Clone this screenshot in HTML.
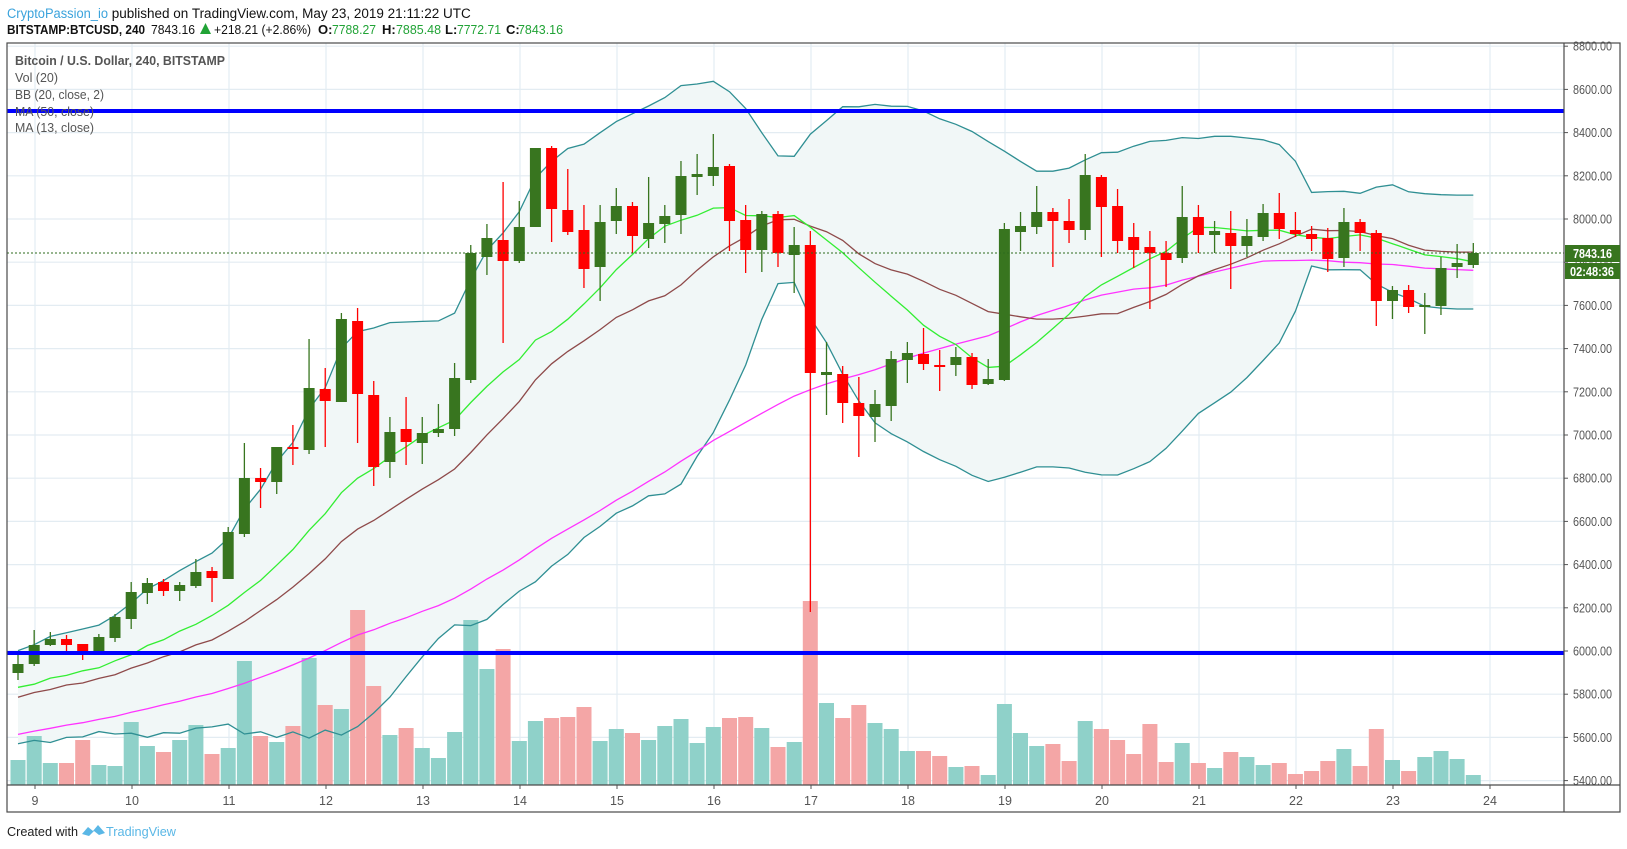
<!DOCTYPE html>
<html><head><meta charset="utf-8">
<style>
html,body{margin:0;padding:0;background:#fff;width:1627px;height:849px;overflow:hidden}
svg{display:block}
text{font-family:"Liberation Sans",sans-serif}
</style></head>
<body>
<svg id="s" width="1627" height="849" viewBox="0 0 1627 849" xmlns="http://www.w3.org/2000/svg">
<g id="grid"></g>
<g id="band"></g>
<g id="vol"></g>
<g id="lines"></g>
<g id="candles"></g>
<g id="over"></g>
<!-- header -->
<text x="7" y="18" font-size="13.5" fill="#111"><tspan fill="#3ba3dc" textLength="101" lengthAdjust="spacingAndGlyphs">CryptoPassion_io</tspan><tspan> published on TradingView.com, May 23, 2019 21:11:22 UTC</tspan></text>
<text x="7" y="34" font-size="13" font-weight="bold" fill="#111" textLength="138" lengthAdjust="spacingAndGlyphs">BITSTAMP:BTCUSD, 240</text>
<text x="151" y="34" font-size="13" fill="#111" textLength="44" lengthAdjust="spacingAndGlyphs">7843.16</text>
<polygon points="200,34 211,34 205.5,23" fill="#21a336"/>
<text x="214" y="34" font-size="13" fill="#111" textLength="97" lengthAdjust="spacingAndGlyphs">+218.21 (+2.86%)</text>
<text x="318" y="34" font-size="13" font-weight="bold" fill="#111">O:</text>
<text x="332" y="34" font-size="13" fill="#21a336" textLength="44" lengthAdjust="spacingAndGlyphs">7788.27</text>
<text x="382" y="34" font-size="13" font-weight="bold" fill="#111">H:</text>
<text x="396" y="34" font-size="13" fill="#21a336" textLength="45" lengthAdjust="spacingAndGlyphs">7885.48</text>
<text x="445" y="34" font-size="13" font-weight="bold" fill="#111">L:</text>
<text x="457" y="34" font-size="13" fill="#21a336" textLength="44" lengthAdjust="spacingAndGlyphs">7772.71</text>
<text x="506" y="34" font-size="13" font-weight="bold" fill="#111">C:</text>
<text x="518" y="34" font-size="13" fill="#21a336" textLength="45" lengthAdjust="spacingAndGlyphs">7843.16</text>
<!-- legend -->
<text x="15" y="65" font-size="12.5" font-weight="bold" fill="#555" textLength="210" lengthAdjust="spacingAndGlyphs">Bitcoin / U.S. Dollar, 240, BITSTAMP</text>
<text x="15" y="82" font-size="12.5" fill="#555" textLength="43" lengthAdjust="spacingAndGlyphs">Vol (20)</text>
<text x="15" y="99" font-size="12.5" fill="#555" textLength="89" lengthAdjust="spacingAndGlyphs">BB (20, close, 2)</text>
<text x="15" y="116" font-size="12.5" fill="#555" textLength="79" lengthAdjust="spacingAndGlyphs">MA (50, close)</text>
<text x="15" y="132" font-size="12.5" fill="#555" textLength="79" lengthAdjust="spacingAndGlyphs">MA (13, close)</text>
<!-- footer -->
<text x="7" y="836" font-size="13" fill="#222" textLength="71" lengthAdjust="spacingAndGlyphs">Created with</text>
<path d="M82,834 l6,-7 l5,4 l5,-6 l7,8 l-6,2 l-5,-4 l-5,5 z" fill="#5ab7e6"/>
<text x="106" y="836" font-size="13" fill="#5ab7e6" textLength="70" lengthAdjust="spacingAndGlyphs">TradingView</text>
</svg>
<script>
var NS="http://www.w3.org/2000/svg";
function el(p,t,a){var e=document.createElementNS(NS,t);for(var k in a)e.setAttribute(k,a[k]);document.getElementById(p).appendChild(e);return e;}
function Y(p){return 219+(8000-p)*0.216;}
function X(i){return 18+16.17*i;}
// grid
for(var p=5400;p<=8800;p+=200){var y=Y(p);el("grid","line",{x1:7,x2:1564,y1:y,y2:y,stroke:"#e3ecf2","stroke-width":1.2});
 var t=el("over","text",{x:1573,y:y+4.5,"font-size":12.5,fill:"#555",textLength:39,lengthAdjust:"spacingAndGlyphs"});t.textContent=p.toFixed(2);
 el("over","line",{x1:1564,x2:1568,y1:y,y2:y,stroke:"#555"});}
for(var k=0;k<16;k++){var x=35+97*k;el("grid","line",{x1:x,x2:x,y1:43,y2:785,stroke:"#e3ecf2","stroke-width":1.2});
 el("over","line",{x1:x,x2:x,y1:785,y2:789,stroke:"#555"});
 var t=el("over","text",{x:x,y:805,"font-size":12.5,fill:"#555","text-anchor":"middle"});t.textContent=String(9+k);}
// candles [o,c,h,l]
var D=[[673,664,654,680],[664,645,630,666],[645,639,632,646],[639,645,635,651],[644,653,644,660],[653,637,634,653],[638,617,614,642],[619,592,582,629],[593,583,578,604],[582,591,579,596],
[591,585,582,601],[586,572,559,588],[571,578,567,602],[579,532,527,579],[534,478,443,537],[478,482,468,508],[482,447,447,494],[447,449,425,465],[450,388,339,454],[389,401,368,447],
[402,319,313,402],[321,394,308,443],[395,467,381,486],[462,432,417,478],[429,442,397,465],[443,433,417,464],[433,429,404,437],[429,378,363,436],[380,253,245,383],[257,238,224,275],
[240,261,182,343],[261,227,201,263],[227,148,148,227],[148,209,146,242],[210,232,169,235],[230,269,205,288],[267,222,205,301],[221,206,188,234],[206,236,202,253],[239,223,177,248],
[224,216,205,243],[215,176,161,234],[177,174,154,195],[176,167,134,186],[166,221,164,251],[220,250,205,273],[250,214,211,272],[214,253,211,267],[255,245,227,293],[245,373,231,612],
[375,372,342,415],[374,403,366,423],[403,416,377,457],[417,404,390,442],[406,359,351,421],[360,353,342,383],[354,364,328,370],[365,366,350,391],[365,357,347,376],[357,385,353,389],
[384,379,359,385],[380,229,223,381],[232,226,212,251],[227,212,186,234],[212,221,208,267],[221,230,199,243],[230,175,154,240],[177,207,175,257],[206,241,189,253],[237,250,223,268],
[247,253,231,309],[253,260,241,287],[258,217,186,263],[217,235,205,253],[235,231,221,253],[233,246,211,289],[246,236,219,257],[237,213,204,241],[213,229,193,239],[230,234,212,237],
[234,239,226,251],[238,259,228,272],[258,222,208,267],[222,233,219,251],[233,301,230,326],[301,290,286,319],[290,307,285,313],[306,305,293,334],[306,268,257,315],[267,263,244,278],
[265,253,243,268]];
var V=[760,736,763,763,740,765,766,722,746,752,740,725,754,748,661,736,742,726,658,705,709,610,686,735,728,748,758,732,620,669,649,741,721,718,717,707,741,729,733,740,726,719,743,727,718,717,728,747,742,601,703,718,705,723,729,751,751,756,767,766,775,704,733,746,744,761,721,729,740,754,724,762,743,763,768,752,757,765,763,774,771,761,749,766,729,760,771,757,751,759,775];
var G="#38751f",R="#ff0000";
// indicators
var cl=[];for(var k=60;k>=1;k--){cl.push(673+2.5*k+(k%2?18:-18));}
for(var i=0;i<D.length;i++)cl.push(D[i][1]);
function ma(n,j){var s=0;for(var q=j-n+1;q<=j;q++)s+=cl[q];return s/n;}
function sd(n,j){var m=ma(n,j),s=0;for(var q=j-n+1;q<=j;q++)s+=(cl[q]-m)*(cl[q]-m);return Math.sqrt(s/n);}
var up=[],lo=[],m13=[],m20=[],m50=[];
for(var i=0;i<D.length;i++){var j=i+60,b=ma(20,j),d=sd(20,j);var x=X(i).toFixed(1);
 up.push(x+","+(b-2*d).toFixed(1));lo.push(x+","+(b+2*d).toFixed(1));m20.push(x+","+b.toFixed(1));
 m13.push(x+","+ma(13,j).toFixed(1));m50.push(x+","+ma(50,j).toFixed(1));}
el("band","polygon",{points:up.join(" ")+" "+lo.slice().reverse().join(" "),fill:"#f1f7f7"});
el("lines","polyline",{points:up.join(" "),fill:"none",stroke:"#2f8f93","stroke-width":1.3});
el("lines","polyline",{points:lo.join(" "),fill:"none",stroke:"#2f8f93","stroke-width":1.3});
el("lines","polyline",{points:m50.join(" "),fill:"none",stroke:"#ff33ff","stroke-width":1.3});
el("lines","polyline",{points:m20.join(" "),fill:"none",stroke:"#8e4a4a","stroke-width":1.3});
el("lines","polyline",{points:m13.join(" "),fill:"none",stroke:"#33ee33","stroke-width":1.3});
for(var i=0;i<D.length;i++){var d=D[i],x=X(i),g=d[1]<=d[0];
 el("vol","rect",{x:(x-7.5).toFixed(1),y:V[i],width:15,height:785-V[i],fill:g?"#8fd1c9":"#f4a6a6"});
 var c=g?G:R;
 el("candles","line",{x1:x,x2:x,y1:d[2],y2:d[3],stroke:c,"stroke-width":1.3});
 var t=Math.min(d[0],d[1]),h=Math.max(2,Math.abs(d[0]-d[1]));
 el("candles","rect",{x:(x-5.5).toFixed(1),y:t,width:11,height:h,fill:c});}
// horizontal levels
el("over","line",{x1:7,x2:1564,y1:111,y2:111,stroke:"#0000ff","stroke-width":4});
el("over","line",{x1:7,x2:1564,y1:653,y2:653,stroke:"#0000ff","stroke-width":4});
el("over","line",{x1:7,x2:1564,y1:253,y2:253,stroke:"#2d6b1c","stroke-width":1,"stroke-dasharray":"2,2"});
// frame
el("over","rect",{x:7,y:43,width:1613,height:769,fill:"none",stroke:"#4a4a4a","stroke-width":1.2});
el("over","line",{x1:1564,x2:1564,y1:43,y2:812,stroke:"#4a4a4a","stroke-width":1.2});
el("over","line",{x1:7,x2:1620,y1:785,y2:785,stroke:"#4a4a4a","stroke-width":1.2});
// price tags
el("over","rect",{x:1565,y:245,width:55,height:17,fill:"#38751f"});
el("over","rect",{x:1565,y:263,width:55,height:16,fill:"#38751f"});
var t=el("over","text",{x:1573,y:258,"font-size":12.5,"font-weight":"bold",fill:"#fff",textLength:39,lengthAdjust:"spacingAndGlyphs"});t.textContent="7843.16";
t=el("over","text",{x:1570,y:276,"font-size":12.5,"font-weight":"bold",fill:"#fff",textLength:44,lengthAdjust:"spacingAndGlyphs"});t.textContent="02:48:36";
</script>
</body></html>
